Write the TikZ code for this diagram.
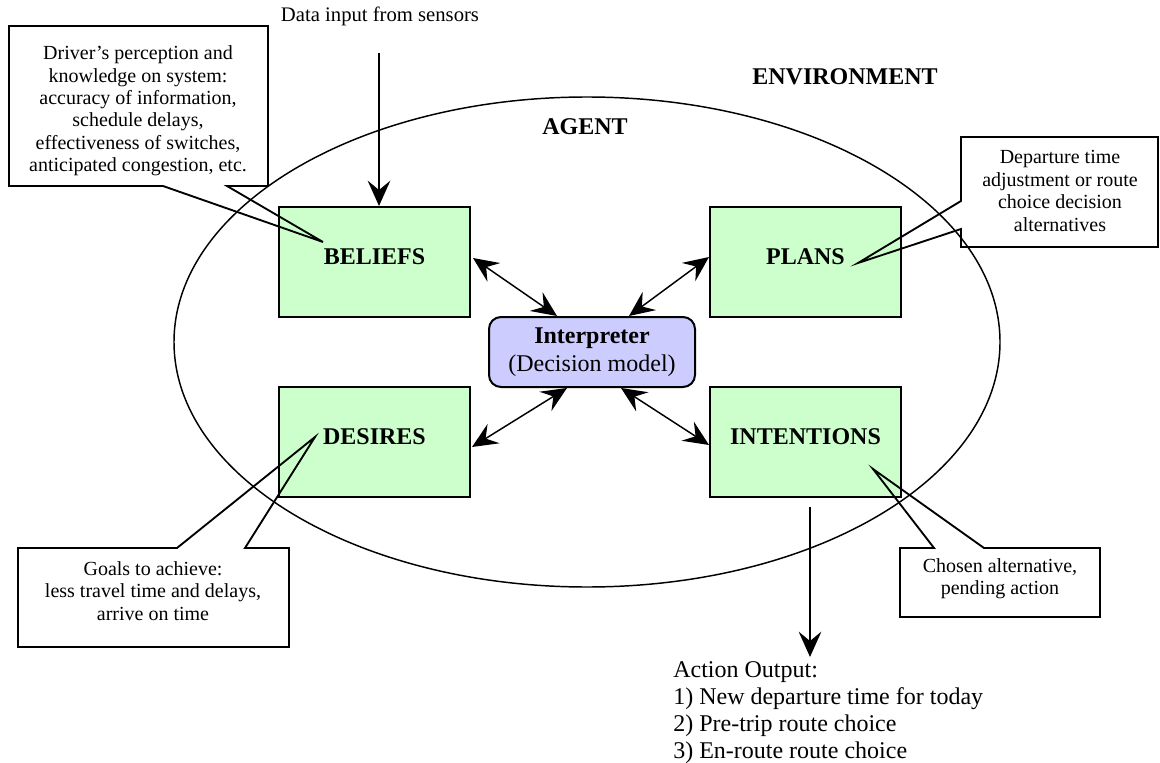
\documentclass[tikz,border=0pt]{standalone}
\usepackage{fontspec}
\setmainfont{Liberation Serif}
\usetikzlibrary{arrows.meta,calc}
\definecolor{boxgreen}{HTML}{CCFFCC}
\definecolor{interpblue}{HTML}{CCCCFF}
\begin{document}
\begin{tikzpicture}[x=0.75pt,y=-0.75pt,
  bdiboxstyle/.style={draw=black, line width=1.5pt, fill=boxgreen,
    minimum width=143.25pt, minimum height=82.5pt, inner sep=0pt,
    font=\fontsize{18}{21}\selectfont\bfseries,
    text height=11.9pt, text depth=7.5pt},
  interpstyle/.style={draw=black, line width=1.5pt, fill=interpblue,
    rounded corners=9pt, minimum width=154.5pt, minimum height=52.5pt,
    inner sep=0pt, align=center, font=\fontsize{18}{21}\selectfont},
  callout/.style={draw=black, line width=1.4pt, line join=miter},
  callouttext/.style={align=center, inner sep=0pt,
    font=\fontsize{15}{16.8}\selectfont},
  heading/.style={inner sep=0pt, font=\fontsize{18}{21}\selectfont\bfseries},
  tip/.style={Stealth[length=19pt, width=17pt, inset=7pt]},
  twoway/.style={{Stealth[length=19pt, width=17pt, inset=7pt]}-{Stealth[length=19pt, width=17pt, inset=7pt]}, line width=1.1pt},
  oneway/.style={-{Stealth[length=19pt, width=17pt, inset=7pt]}, line width=1.1pt}]
\useasboundingbox (0,0) rectangle (1160,763);

% agent boundary
\draw[line width=1.1pt] (587,342) ellipse [x radius=309.75pt, y radius=183.75pt];

% headings
\node[heading] (env) at (845,77) {ENVIRONMENT};
\node[heading] (agent) at (585,127) {AGENT};

% BDI components
\node[bdiboxstyle] (beliefs) at (374.5,262) {BELIEFS};
\node[bdiboxstyle] (plans) at (805.5,262) {PLANS};
\node[bdiboxstyle] (desires) at (374.5,442) {DESIRES};
\node[bdiboxstyle] (intentions) at (805.5,442) {INTENTIONS};
\node[interpstyle] (interp) at (592,352) {\textbf{Interpreter}\\(Decision model)};

% callouts
\draw[callout] (9,26) -- (268,26) -- (268,186) -- (227,186) -- (323,242)
  -- (163,186) -- (9,186) -- cycle;
\node[callouttext] (beliefsnote) at (138,111)
  {Driver’s perception and\\knowledge on system:\\accuracy of information,\\schedule delays,\\effectiveness of switches,\\anticipated congestion, etc.};

\draw[callout] (961,137) -- (1158,137) -- (1158,247) -- (961,247) -- (961,229)
  -- (858,263) -- (961,201) -- cycle;
\node[callouttext] (plansnote) at (1060,191)
  {Departure time\\adjustment or route\\choice decision\\alternatives};

\draw[callout] (18,548) -- (177,548) -- (315,437) -- (245,548) -- (289,548)
  -- (289,647) -- (18,647) -- cycle;
\node[callouttext] (desiresnote) at (153,591)
  {Goals to achieve:\\less travel time and delays,\\arrive on time};

\draw[callout] (900,548) -- (934,548) -- (873,469) -- (984,548) -- (1100,548)
  -- (1100,617) -- (900,617) -- cycle;
\node[callouttext] (intentionsnote) at (1000,579)
  {Chosen alternative,\\pending action};

% links with the interpreter
\draw[twoway] ($(beliefs.east)+(2,-4)$) -- ($(interp.north west)+(69,0)$);
\draw[twoway] ($(plans.west)+(0,-5)$) -- ($(interp.north west)+(141,0)$);
\draw[twoway] ($(desires.east)+(1,5)$) -- ($(interp.south west)+(79,0)$);
\draw[twoway] ($(interp.south west)+(133,0)$) -- ($(intentions.west)+(0,3)$);

% sensor input
\node[inner sep=0pt, font=\fontsize{15.5}{18}\selectfont] (sensors) at (380,16) {Data input from sensors};
\coordinate (sensorfeed) at (379,53);
\draw[oneway] (sensorfeed) -- ($(beliefs.north)+(4.5,0)$);

% action output
\coordinate (actionstart) at (810,507);
\coordinate (actionend) at (810,657);
\draw[oneway] (actionstart) -- (actionend);
\node[anchor=north west, inner sep=0pt, align=left,
  font=\fontsize{18}{20.3}\selectfont] (action) at (673,661)
  {Action Output:\\1) New departure time for today\\2) Pre-trip route choice\\3) En-route route choice};
\end{tikzpicture}
\end{document}
